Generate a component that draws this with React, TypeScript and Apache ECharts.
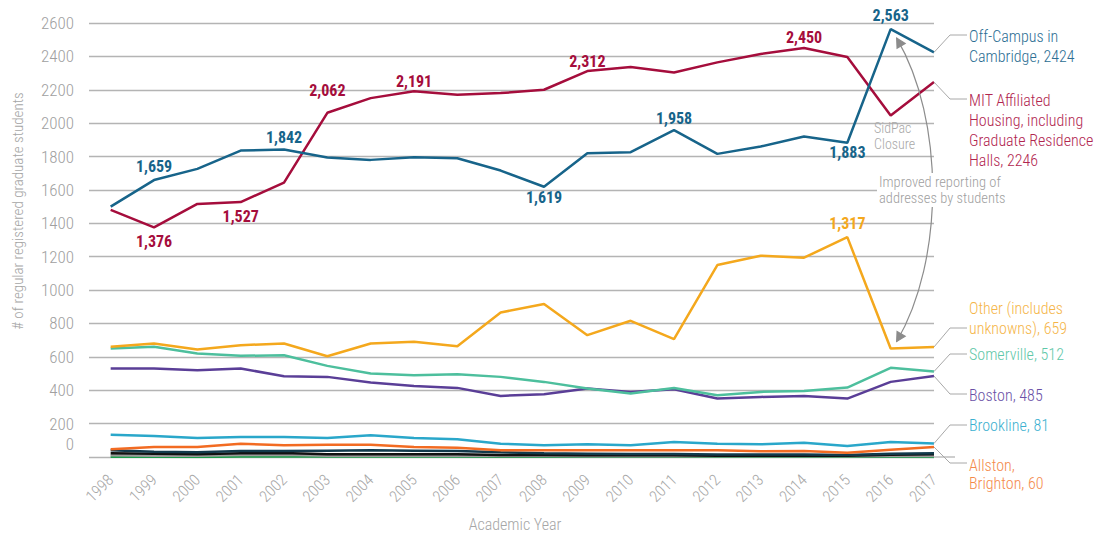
import React, { useEffect, useRef } from "react";
import * as echarts from "echarts";

const years = [1998, 1999, 2000, 2001, 2002, 2003, 2004, 2005, 2006, 2007, 2008, 2009, 2010, 2011, 2012, 2013, 2014, 2015, 2016, 2017];

const offCampus = [1500, 1659, 1726, 1836, 1842, 1794, 1780, 1796, 1790, 1716, 1619, 1820, 1826, 1958, 1816, 1860, 1920, 1883, 2563, 2424];
const mitHousing = [1480, 1376, 1516, 1527, 1644, 2062, 2150, 2191, 2170, 2180, 2200, 2312, 2336, 2304, 2364, 2414, 2450, 2396, 2046, 2246];
const other = [660, 680, 644, 670, 680, 604, 680, 690, 664, 866, 916, 730, 816, 706, 1150, 1206, 1194, 1317, 650, 659];
const somerville = [650, 660, 620, 606, 610, 546, 500, 490, 496, 480, 450, 410, 380, 414, 370, 390, 396, 416, 534, 512];
const boston = [530, 530, 520, 530, 484, 480, 446, 426, 414, 366, 376, 410, 390, 406, 350, 360, 366, 350, 450, 485];
const brookline = [134, 126, 114, 120, 120, 114, 130, 114, 106, 80, 70, 76, 70, 90, 80, 76, 86, 66, 90, 81];
const allston = [46, 60, 60, 80, 70, 74, 74, 60, 56, 40, 40, 40, 40, 40, 40, 34, 36, 26, 44, 60];
const smallNavy = [40, 32, 28, 36, 36, 38, 40, 38, 36, 28, 22, 20, 18, 18, 15, 15, 15, 12, 20, 22];
const smallBlack = [22, 20, 16, 22, 24, 16, 16, 16, 16, 12, 12, 10, 10, 10, 8, 8, 8, 8, 14, 16];
const smallGray = [10, 8, 8, 12, 14, 8, 8, 8, 8, 6, 6, 5, 5, 5, 4, 4, 4, 4, 6, 6];
const smallGreen = [2, 1, 0, 3, 3, 3, 3, 3, 3, 2, 2, 2, 2, 2, 2, 2, 2, 2, 2, 0];

// which points carry a value label: index -> [position, distance, dx, dy]
const offCampusLabels: Record<number, [string, number, number, number]> = {
  1: ["top", 6, 0, 0], 4: ["top", 4, 0, 0], 10: ["bottom", 3, 0, 0], 13: ["top", 4, 0, 0], 17: ["bottom", 2, -2, 0], 18: ["top", 6, -2, 0],
};
const mitLabels: Record<number, [string, number, number, number]> = {
  1: ["bottom", 6, 0, 0], 3: ["bottom", 6, -2, 0], 5: ["top", 14, -3, 0], 7: ["top", 2, 0, 0], 11: ["top", 2, -2, 0], 16: ["top", 3, -1, 0],
};
const otherLabels: Record<number, [string, number, number, number]> = {
  17: ["top", 6, -2, 0],
};

const FONT = "'Roboto Condensed', 'DejaVu Sans Condensed', 'Liberation Sans Narrow', 'Arial Narrow', Roboto, sans-serif";
const LIGHT = 300;

const C = {
  blue: "#17648a",
  red: "#a50d3c",
  orange: "#f4a81d",
  teal: "#4dbf9d",
  purple: "#5a3e97",
  cyan: "#2aa7ca",
  allston: "#f26b22",
  navy: "#123a4c",
  black: "#111111",
  gray: "#9a9a9a",
  green: "#1c9e4b",
};

function buildData(vals: number[], labels?: Record<number, [string, number, number, number]>, color?: string) {
  return years.map((y, i) => {
    const item: any = { value: [y, vals[i]] };
    const l = labels && labels[i];
    if (l) {
      item.label = {
        show: true,
        position: l[0],
        distance: l[1],
        offset: [l[2], l[3]],
        color,
        opacity: 1,
        fontFamily: FONT,
        fontWeight: "bold",
        fontSize: 16,
        formatter: (p: any) => Number(p.value[1]).toLocaleString("en-US"),
      };
    }
    return item;
  });
}

function lineSeries(name: string, vals: number[], color: string, width: number, labels?: Record<number, [string, number, number, number]>, z = 2) {
  return {
    type: "line",
    name,
    data: buildData(vals, labels, color),
    showSymbol: true,
    showAllSymbol: true,
    symbol: "circle",
    symbolSize: 0.01,
    lineStyle: { color, width },
    itemStyle: { color, opacity: 0 },
    label: { show: false, opacity: 1 },
    labelLayout: { hideOverlap: false },
    z,
    silent: true,
  };
}

export default function App() {
  const ref = useRef<HTMLDivElement>(null);
  useEffect(() => {
    const chart = echarts.init(ref.current!, null, { renderer: "svg" });
    const option: any = {
      animation: false,
      backgroundColor: "#ffffff",
      grid: { left: 89, right: 162, top: 23, bottom: 77, containLabel: false },
      xAxis: {
        type: "value",
        min: 1997.5,
        max: 2017,
        splitLine: { show: false },
        axisLine: { show: false },
        axisTick: { show: false },
        axisLabel: {
          customValues: years,
          rotate: 45,
          margin: 20,
          color: "#a6a6a6",
          fontSize: 16,
          fontWeight: LIGHT,
          fontFamily: FONT,
          formatter: (v: number) => String(v),
        },
      },
      yAxis: {
        type: "value",
        min: 0,
        max: 2600,
        interval: 200,
        axisLine: { show: false },
        axisTick: { show: false },
        splitLine: { lineStyle: { color: "#b4b4b4", width: 1.3 } },
        axisLabel: {
          margin: 15,
          color: "#a0a0a0",
          fontSize: 17,
          fontWeight: LIGHT,
          fontFamily: FONT,
          formatter: (v: number) => (v === 0 ? "{z|0}" : String(v)),
          rich: { z: { color: "#a0a0a0", fontSize: 17, fontWeight: LIGHT, fontFamily: FONT, padding: [0, 0, 27, 0] } },
        },
      },
      series: [
        lineSeries("Green", smallGreen, C.green, 2.5),
        lineSeries("Gray", smallGray, C.gray, 2.5),
        lineSeries("Black", smallBlack, C.black, 2.5),
        lineSeries("Navy", smallNavy, C.navy, 2.5),
        lineSeries("Allston, Brighton", allston, C.allston, 2.5),
        lineSeries("Brookline", brookline, C.cyan, 2.5),
        lineSeries("Boston", boston, C.purple, 2.5),
        lineSeries("Somerville", somerville, C.teal, 2.5),
        lineSeries("Other (includes unknowns)", other, C.orange, 2.5, otherLabels, 3),
        lineSeries("MIT Affiliated Housing", mitHousing, C.red, 2.5, mitLabels, 4),
        lineSeries("Off-Campus in Cambridge", offCampus, C.blue, 2.5, offCampusLabels, 5),
      ],
    };
    chart.setOption(option);

    const P = (x: number, v: number) => chart.convertToPixel({ gridIndex: 0 }, [x, v]) as number[];
    const last = years.length - 1;
    const lastYear = years[last];

    const endLabels: { vals: number[]; text: string; color: string; leaderY: number; firstLineY: number; lh: number }[] = [
      { vals: offCampus, text: `Off-Campus in\nCambridge, ${offCampus[last]}`, color: "#2c6e93", leaderY: 35, firstLineY: 36, lh: 20 },
      { vals: mitHousing, text: `MIT Affiliated\nHousing, including\nGraduate Residence\nHalls, ${mitHousing[last]}`, color: "#b1254f", leaderY: 99, firstLineY: 100, lh: 20 },
      { vals: other, text: `Other (includes\nunknowns), ${other[last]}`, color: "#f5b548", leaderY: 328, firstLineY: 308, lh: 20 },
      { vals: somerville, text: `Somerville, ${somerville[last]}`, color: "#5fc8a9", leaderY: 354, firstLineY: 354, lh: 20 },
      { vals: boston, text: `Boston, ${boston[last]}`, color: "#6a50a6", leaderY: 394, firstLineY: 395, lh: 20 },
      { vals: brookline, text: `Brookline, ${brookline[last]}`, color: "#3bb0d0", leaderY: 425, firstLineY: 425, lh: 20 },
      { vals: allston, text: `Allston,\nBrighton, ${allston[last]}`, color: "#f4894a", leaderY: 463, firstLineY: 465, lh: 18 },
    ];

    const graphics: any[] = [];
    endLabels.forEach((e) => {
      const p = P(lastYear, e.vals[last]);
      graphics.push({
        type: "polyline",
        silent: true,
        shape: { points: [[p[0], p[1]], [p[0] + 16, e.leaderY], [p[0] + 33, e.leaderY]] },
        style: { stroke: "#a8a8a8", lineWidth: 1, fill: null },
        z: 10,
      });
      graphics.push({
        type: "text",
        silent: true,
        x: p[0] + 35,
        y: e.firstLineY - e.lh / 2,
        style: {
          text: e.text,
          fill: e.color,
          fontSize: 16,
          fontWeight: LIGHT,
          fontFamily: FONT,
          lineHeight: e.lh,
          align: "left",
          verticalAlign: "top",
        },
        z: 10,
      });
    });

    // baseline extension
    const b0 = P(lastYear, 0);
    graphics.push({
      type: "line",
      silent: true,
      shape: { x1: b0[0], y1: b0[1], x2: b0[0] + 21, y2: b0[1] },
      style: { stroke: "#b4b4b4", lineWidth: 1.3 },
      z: 1,
    });

    // arrow between 2016 peaks
    const top = P(2016, offCampus[18]);
    const bot = P(2016, other[18]);
    const s = [top[0] + 6, top[1] + 9];
    const e = [bot[0] + 6, bot[1] - 7];
    const cp1 = [s[0] + 48, s[1] + 82];
    const cp2 = [e[0] + 48, e[1] - 82];
    graphics.push({
      type: "bezierCurve",
      silent: true,
      shape: { x1: s[0], y1: s[1], x2: e[0], y2: e[1], cpx1: cp1[0], cpy1: cp1[1], cpx2: cp2[0], cpy2: cp2[1] },
      style: { stroke: "#8c8c8c", lineWidth: 1.2, fill: null },
      z: 8,
    });
    const head = (tip: number[], from: number[]) => {
      const dx = from[0] - tip[0];
      const dy = from[1] - tip[1];
      const len = Math.sqrt(dx * dx + dy * dy);
      const ux = dx / len;
      const uy = dy / len;
      const a = (28 * Math.PI) / 180;
      const L = 10;
      const r1 = [tip[0] + L * (ux * Math.cos(a) - uy * Math.sin(a)), tip[1] + L * (ux * Math.sin(a) + uy * Math.cos(a))];
      const r2 = [tip[0] + L * (ux * Math.cos(-a) - uy * Math.sin(-a)), tip[1] + L * (ux * Math.sin(-a) + uy * Math.cos(-a))];
      return {
        type: "polygon",
        silent: true,
        shape: { points: [r1, tip, r2] },
        style: { stroke: "#8c8c8c", lineWidth: 1.2, fill: "#8c8c8c" },
        z: 8,
      };
    };
    graphics.push(head(s, cp1));
    graphics.push(head(e, cp2));

    // annotations
    graphics.push({
      type: "text",
      silent: true,
      x: 874,
      y: 120,
      style: { text: "SidPac\nClosure", fill: "#a8a8a8", fontSize: 14, fontWeight: LIGHT, fontFamily: FONT, lineHeight: 16, align: "left", verticalAlign: "top" },
      z: 9,
    });
    graphics.push({
      type: "text",
      silent: true,
      x: 877,
      y: 173,
      style: {
        text: "Improved reporting of\naddresses by students",
        fill: "#a0a0a0",
        fontSize: 14.5,
        fontWeight: LIGHT,
        fontFamily: FONT,
        lineHeight: 16,
        align: "left",
        verticalAlign: "top",
        backgroundColor: "#ffffff",
        padding: [1, 2, 1, 2],
      },
      z: 9,
    });

    // axis titles
    graphics.push({
      type: "text",
      silent: true,
      x: 18,
      y: 211,
      rotation: Math.PI / 2,
      style: { text: "# of regular registered graduate students", fill: "#a6a6a6", fontSize: 15, fontWeight: LIGHT, fontFamily: FONT, align: "center", verticalAlign: "middle" },
      z: 9,
    });
    graphics.push({
      type: "text",
      silent: true,
      x: 515,
      y: 524,
      style: { text: "Academic Year", fill: "#a6a6a6", fontSize: 16, fontWeight: LIGHT, fontFamily: FONT, align: "center", verticalAlign: "middle" },
      z: 9,
    });

    chart.setOption({ graphic: graphics });
    return () => chart.dispose();
  }, []);
  return <div ref={ref} style={{ position: "absolute", left: 0, top: 0, width: 1096, height: 534 }} />;
}
